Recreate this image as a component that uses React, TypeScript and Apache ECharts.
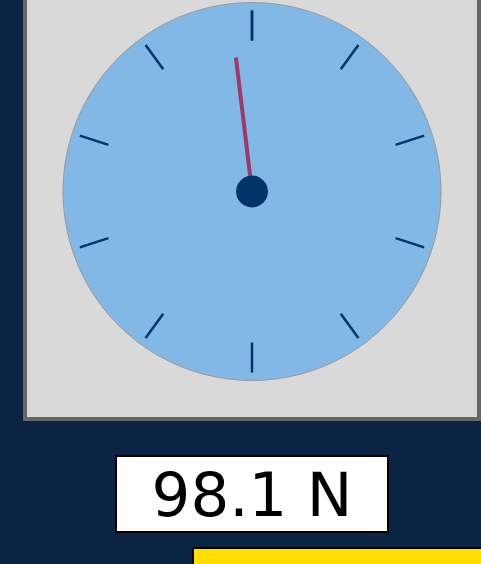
import React, { useEffect, useRef } from "react";
import * as echarts from "echarts";

const gaugeMin = 0;
const gaugeMax = 100;
const gaugeSplits = 10;
const forceValues = [98.1];
const unitLabel = "N";

export default function App() {
  const ref = useRef<HTMLDivElement>(null);
  useEffect(() => {
    if (!ref.current) return;
    const chart = echarts.init(ref.current, null, { renderer: "svg" });
    const value = forceValues[0];
    chart.setOption({
      animation: false,
      backgroundColor: "#0b2444",
      graphic: [
        {
          type: "rect",
          z: -10,
          shape: { x: 25, y: -10, width: 454, height: 429 },
          style: { fill: "#d9d9d9", stroke: "#666666", lineWidth: 4 },
        },
        {
          type: "circle",
          z: -5,
          shape: { cx: 252, cy: 191.5, r: 189 },
          style: { fill: "#82b8e6", stroke: "#999999", lineWidth: 1 },
        },
        {
          type: "rect",
          shape: { x: 116, y: 456, width: 272, height: 76 },
          style: { fill: "#ffffff", stroke: "#000000", lineWidth: 2 },
        },
        {
          type: "text",
          x: 252,
          y: 494,
          style: {
            text: `${value.toFixed(1)} ${unitLabel}`,
            fill: "#000000",
            font: "61px 'DejaVu Sans'",
            align: "center",
            verticalAlign: "middle",
          },
        },
        {
          type: "rect",
          shape: { x: 193, y: 548, width: 300, height: 30 },
          style: { fill: "#ffdf00", stroke: "#000000", lineWidth: 2 },
        },
      ],
      series: [
        {
          type: "gauge",
          center: [252, 191.5],
          radius: 189,
          min: gaugeMin,
          max: gaugeMax,
          startAngle: 90,
          endAngle: -270,
          splitNumber: gaugeSplits,
          axisLine: { show: false, lineStyle: { width: 0 } },
          axisTick: { show: false },
          axisLabel: { show: false },
          splitLine: {
            show: true,
            distance: 8,
            length: 30,
            lineStyle: { color: "#003366", width: 2.5 },
          },
          pointer: {
            show: true,
            icon: "rect",
            length: 135,
            width: 4,
            offsetCenter: [0, 0],
            itemStyle: { color: "#9e3a64" },
          },
          anchor: {
            show: true,
            showAbove: true,
            size: 32,
            itemStyle: { color: "#003366" },
          },
          title: { show: false },
          detail: { show: false },
          data: [{ value }],
        },
      ],
    });
    return () => chart.dispose();
  }, []);
  return (
    <div
      ref={ref}
      style={{ position: "fixed", left: 0, top: 0, width: 481, height: 564 }}
    />
  );
}
